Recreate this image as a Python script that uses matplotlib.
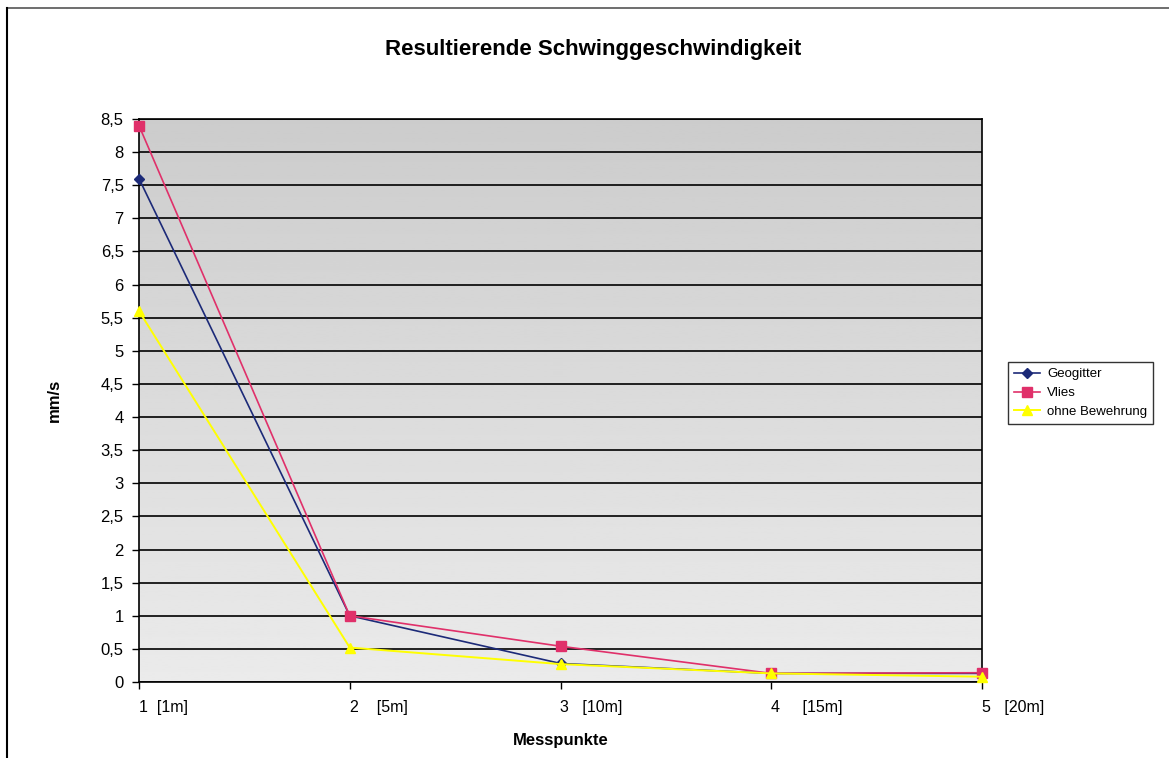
import numpy as np
import matplotlib
matplotlib.use('Agg')
import matplotlib.pyplot as plt
import matplotlib.transforms as mtransforms

plt.rcParams['font.family'] = ['Liberation Sans', 'DejaVu Sans']

# Data.
messpunkte = [1, 2, 3, 4, 5]
xlabels = ['1  [1m]', '2    [5m]', '3   [10m]', '4     [15m]', '5   [20m]']
geogitter = [7.6, 1.0, 0.28, 0.13, 0.13]
vlies = [8.4, 1.0, 0.54, 0.13, 0.14]
ohne = [5.6, 0.52, 0.27, 0.13, 0.08]
yticks = np.arange(0, 8.51, 0.5)

fig = plt.figure(figsize=(11.69, 7.58), dpi=100)
ax = fig.add_axes([139 / 1169, 1 - 682 / 758, (982 - 139) / 1169, (682 - 119) / 758])

# Gray gradient background (darker at top, lighter at bottom).
grad = np.linspace(0.80, 0.92, 256).reshape(-1, 1)
ax.imshow(grad, cmap='gray', vmin=0, vmax=1, aspect='auto',
          extent=[0, 1, 0, 1], transform=ax.transAxes, zorder=0)

ax.plot(messpunkte, geogitter, color='#1c2a78', marker='D', markersize=5,
        linewidth=1.2, label='Geogitter', zorder=3, clip_on=False)
ax.plot(messpunkte, vlies, color='#e0306a', marker='s', markersize=7,
        linewidth=1.2, label='Vlies', zorder=3, clip_on=False)
ax.plot(messpunkte, ohne, color='#ffff00', marker='^', markersize=7,
        linewidth=1.4, label='ohne Bewehrung', zorder=4, clip_on=False)

ax.set_xlim(1, 5)
ax.set_ylim(0, 8.5)
ax.set_yticks(yticks)
ax.set_yticklabels([('%g' % v).replace('.', ',') for v in yticks], fontsize=12)
ax.set_xticks(messpunkte)
ax.set_xticklabels(xlabels, fontsize=11.5, ha='left')
offset = mtransforms.ScaledTranslation(-6 / 100, 0, fig.dpi_scale_trans)
for lbl in ax.get_xticklabels():
    lbl.set_transform(lbl.get_transform() + offset)
ax.tick_params(axis='both', direction='out', length=5, width=1, color='black')
ax.tick_params(axis='x', pad=8)
ax.tick_params(axis='y', pad=6)
ax.grid(axis='y', color='black', linewidth=1.2, zorder=1)
ax.set_axisbelow(True)
for s in ax.spines.values():
    s.set_color('black')
    s.set_linewidth(1.2)

ax.set_ylabel('mm/s', fontsize=12, fontweight='bold', labelpad=28)
ax.set_xlabel('Messpunkte', fontsize=12, fontweight='bold', labelpad=13)
fig.text(0.507, 1 - 50 / 758, 'Resultierende Schwinggeschwindigkeit',
         ha='center', va='center', fontsize=16, fontweight='bold')

leg = ax.legend(loc='center left', bbox_to_anchor=(1008 / 1169, 1 - 393 / 758),
                bbox_transform=fig.transFigure, fontsize=9.5, frameon=True,
                fancybox=False, borderpad=0.45, handlelength=2.0,
                handletextpad=0.5, labelspacing=0.5, borderaxespad=0)
leg.get_frame().set_edgecolor('black')
leg.get_frame().set_linewidth(1.0)

# Outer chart border.
fig.add_artist(plt.Line2D([7 / 1169, 1], [1 - 8 / 758, 1 - 8 / 758],
                          transform=fig.transFigure, color='#555555', linewidth=1.2))
fig.add_artist(plt.Line2D([7 / 1169, 7 / 1169], [0, 1 - 8 / 758],
                          transform=fig.transFigure, color='black', linewidth=1.5))

fig.savefig('out.png', dpi=100)
